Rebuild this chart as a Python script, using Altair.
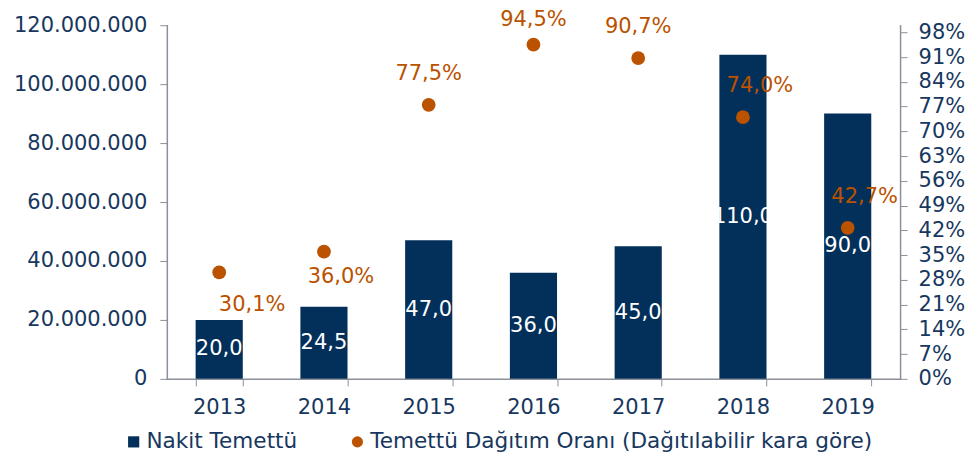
import altair as alt
import pandas as pd

years = ["2013", "2014", "2015", "2016", "2017", "2018", "2019"]
cash_dividend = [20000000, 24500000, 47000000, 36000000, 45000000, 110000000, 90000000]
payout_ratio = [0.301, 0.360, 0.775, 0.945, 0.907, 0.740, 0.427]
left_ticks = [0, 20000000, 40000000, 60000000, 80000000, 100000000, 120000000]
right_ticks = [0, 0.07, 0.14, 0.21, 0.28, 0.35, 0.42, 0.49, 0.56, 0.63, 0.70, 0.77, 0.84, 0.91, 0.98]
series_names = ["Nakit Temettü", "Temettü Dağıtım Oranı (Dağıtılabilir kara göre)"]

NAVY = "#03305A"
TEXT = "#17375E"
ORANGE = "#BA5200"
GRAY = "#8C909C"
FONT = "DejaVu Sans"
FS = 21

df = pd.DataFrame({
    "Yil": years,
    "Nakit": cash_dividend,
    "Oran": payout_ratio,
    "s_bar": series_names[0],
    "s_pt": series_names[1],
})

x_enc = alt.X(
    "Yil:N",
    sort=years,
    title=None,
    scale=alt.Scale(paddingInner=0.55, paddingOuter=0.275),
    axis=alt.Axis(
        labelAngle=0, tickBand="extent", tickSize=7, tickColor=GRAY,
        domainColor=GRAY, domainWidth=1.5, labelPadding=11,
        labelFontSize=FS, labelColor=TEXT, labelFont=FONT,
    ),
)

color_scale = alt.Scale(domain=series_names, range=[NAVY, ORANGE])
legend = alt.Legend(
    title=None, orient="none", legendX=-44, legendY=406, direction="horizontal",
    labelFontSize=21.6, labelColor=TEXT, labelFont=FONT, symbolSize=125, labelLimit=0,
    columnPadding=49, labelOffset=2, symbolStrokeWidth=0,
)

left_axis = alt.Axis(
    values=left_ticks, grid=False, tickSize=7, tickColor=GRAY, domainColor=GRAY,
    domainWidth=1.5, labelPadding=13, labelFontSize=FS, labelColor=TEXT, labelFont=FONT,
    labelOverlap=False,
    labelExpr="replace(format(datum.value, ',d'), /,/g, '.')",
)
left_scale = alt.Scale(domain=[0, 120000000], nice=False, zero=True)

right_axis = alt.Axis(
    orient="right", values=right_ticks, format=".0%", grid=False, tickSize=7,
    tickColor=GRAY, domainColor=GRAY, domainWidth=1.5, labelPadding=11,
    labelFontSize=FS, labelColor=TEXT, labelFont=FONT, labelOverlap=False,
)
right_scale = alt.Scale(domain=[0, 1], nice=False, zero=True)

bars = alt.Chart(df).mark_bar(color=NAVY).encode(
    x=x_enc,
    y=alt.Y("Nakit:Q", title=None, scale=left_scale, axis=left_axis),
    color=alt.Color("s_bar:N", scale=color_scale, legend=legend),
)

bar_labels = alt.Chart(df).transform_calculate(
    mid="datum.Nakit / 2",
    lbl="replace(format(datum.Nakit / 1000000, '.1f'), '.', ',')",
).mark_text(color="white", fontSize=FS, font=FONT, baseline="middle").encode(
    x=x_enc,
    y=alt.Y("mid:Q", title=None, scale=left_scale, axis=left_axis),
    text="lbl:N",
)

left = alt.layer(bars, bar_labels)

y_right = alt.Y("Oran:Q", title=None, scale=right_scale, axis=right_axis)

points = alt.Chart(df).mark_point(filled=True, size=190, opacity=1).encode(
    x=x_enc,
    y=y_right,
    color=alt.Color("s_pt:N", scale=color_scale, legend=legend),
    shape=alt.Shape("s_pt:N", scale=alt.Scale(domain=series_names, range=["square", "circle"]), legend=legend),
)

pct_base = alt.Chart(df).transform_calculate(
    lbl="replace(format(datum.Oran, '.1%'), '.', ',')",
)


def pct_layer(sel, dx, dy):
    return pct_base.transform_filter(
        alt.FieldOneOfPredicate(field="Yil", oneOf=sel)
    ).mark_text(color=ORANGE, fontSize=FS, font=FONT, baseline="middle", dx=dx, dy=dy).encode(
        x=x_enc, y=y_right, text="lbl:N"
    )


right = alt.layer(
    points,
    pct_layer(["2013"], 33, 33),
    pct_layer(["2014"], 17, 25),
    pct_layer(["2015", "2017"], 0, -31),
    pct_layer(["2016"], 0, -25),
    pct_layer(["2018", "2019"], 17, -31),
)

chart = alt.layer(left, right).resolve_scale(y="independent").properties(
    width=734,
    height=354,
    autosize=alt.AutoSizeParams(type="none"),
    padding={"left": 159, "top": 17, "right": 66, "bottom": 78},
).configure_view(stroke=None).configure_axis(domainCap="square", labelOverlap=False)

chart.save("out.html", embed_options={"renderer": "svg", "actions": False})
